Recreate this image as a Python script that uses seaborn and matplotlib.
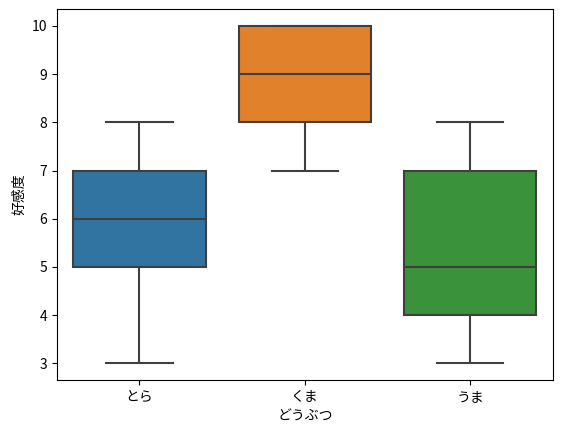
import numpy as np
import pandas as pd
import matplotlib
matplotlib.use('Agg')
import matplotlib.pyplot as plt
import seaborn as sns

plt.rcParams['font.family'] = ['Noto Sans CJK JP', 'DejaVu Sans']

# 好感度のデータ
tora = [3, 5, 5, 6, 6, 7, 7, 8]
kuma = [7, 8, 9, 10, 10]
uma = [3, 4, 5, 7, 8]
animals = ['とら', 'くま', 'うま']

df = pd.DataFrame({
    'どうぶつ': ['とら'] * len(tora) + ['くま'] * len(kuma) + ['うま'] * len(uma),
    '好感度': tora + kuma + uma,
})

fig, ax = plt.subplots(figsize=(5.62, 4.32), dpi=100)
sns.boxplot(data=df, x='どうぶつ', y='好感度', hue='どうぶつ', order=animals,
            palette='tab10', saturation=0.75, linecolor='#3f3f3f', linewidth=1.5,
            legend=False, ax=ax)
fig.subplots_adjust(left=0.101, right=0.984, top=0.979, bottom=0.12)
fig.savefig('out.png')
